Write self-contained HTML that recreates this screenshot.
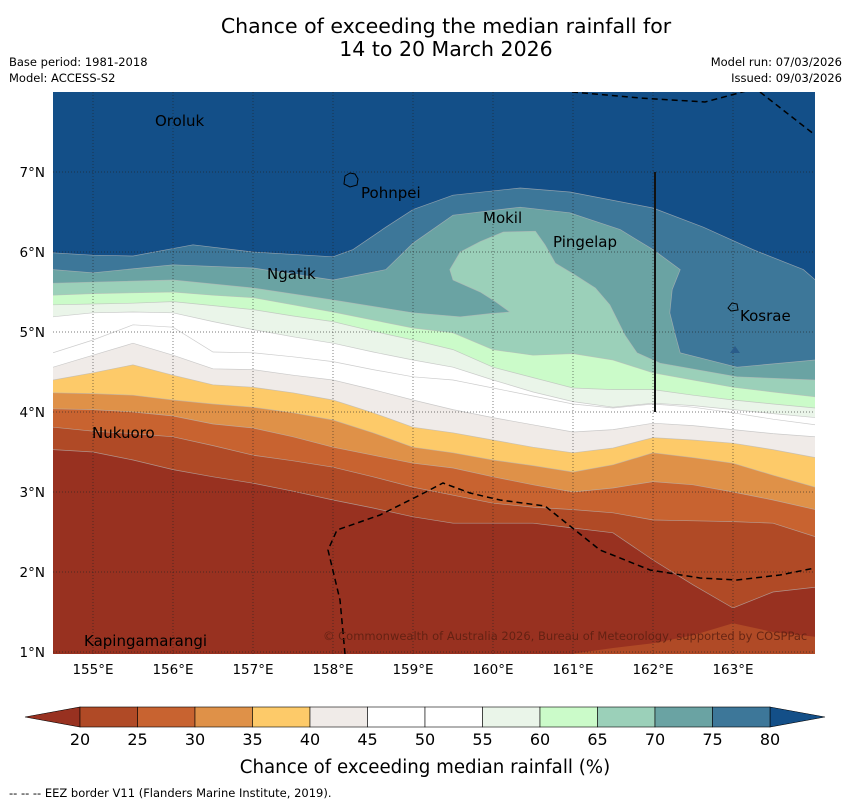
<!DOCTYPE html>
<html><head><meta charset="utf-8">
<style>
body{margin:0;background:#fff;}
svg{display:block;font-family:"DejaVu Sans","Liberation Sans",sans-serif;}
</style></head>
<body>
<svg id="chart" width="850" height="804" viewBox="0 0 850 804" xmlns="http://www.w3.org/2000/svg">
<text x="446" y="33" font-size="20.5" text-anchor="middle">Chance of exceeding the median rainfall for</text>
<text x="446" y="56" font-size="20.5" text-anchor="middle">14 to 20 March 2026</text>
<text x="9" y="66" font-size="11.5">Base period: 1981-2018</text>
<text x="9" y="82" font-size="11.5">Model: ACCESS-S2</text>
<text x="842" y="66" font-size="11.5" text-anchor="end">Model run: 07/03/2026</text>
<text x="842" y="82" font-size="11.5" text-anchor="end">Issued: 09/03/2026</text>
<defs><clipPath id="clip"><rect x="53" y="92" width="762" height="562"/></clipPath></defs>
<g id="map" clip-path="url(#clip)"></g>
<g id="overlay" clip-path="url(#clip)">
<path d="M572,92 L640,98 L705,102 L750,90" fill="none" stroke="#000" stroke-width="1.5" stroke-dasharray="6,4"/>
<path d="M760,92 L815,135" fill="none" stroke="#000" stroke-width="1.5" stroke-dasharray="6,4"/>
<path d="M345,654 L340,600 L328,550 L337,530 L380,515 L420,495 L443,483 L470,493 L500,500 L545,506 L575,530 L600,550 L650,570 L700,578 L737,580 L780,575 L815,568" fill="none" stroke="#000" stroke-width="1.5" stroke-dasharray="6,4"/>
<line x1="655" y1="172" x2="655" y2="412" stroke="#111" stroke-width="2"/>
<path d="M345,176 L350,173 L355,174 L358,179 L357,185 L350,187 L344,184 Z" fill="none" stroke="#000" stroke-width="1"/>
<path d="M728,308 L732,303 L737,304 L738,310 L731,311 Z" fill="none" stroke="#000" stroke-width="1"/>
<path d="M730,353 L735,346 L740,353 Z" fill="#2a5c8a"/>
<text x="155" y="126" font-size="15">Oroluk</text>
<text x="361" y="198" font-size="15">Pohnpei</text>
<text x="483" y="223" font-size="15">Mokil</text>
<text x="553" y="247" font-size="15">Pingelap</text>
<text x="267" y="279" font-size="15">Ngatik</text>
<text x="740" y="321" font-size="15">Kosrae</text>
<text x="92" y="438" font-size="15">Nukuoro</text>
<text x="84" y="646" font-size="15">Kapingamarangi</text>
<text x="323" y="640" font-size="11.5" fill="#5a1e10" fill-opacity="0.85">© Commonwealth of Australia 2026, Bureau of Meteorology, supported by COSPPac</text>
</g>
<g id="axes"></g>
<g id="cbar"></g>
<text x="425" y="773" font-size="18.2" text-anchor="middle">Chance of exceeding median rainfall (%)</text>
<text x="9" y="797" font-size="11.5">--  --  -- EEZ border V11 (Flanders Marine Institute, 2019).</text>
</svg>
<script>
const lons = [154.5,155,155.5,156,156.5,157,157.5,158,158.5,159,159.5,160,160.5,161,161.5,162,162.5,163,163.5,164.03];
const lat65 = [5.46,5.48,5.49,5.50,5.46,5.43,5.34,5.25,5.15,5.05,4.99,4.78,4.71,4.73,4.65,4.49,4.40,4.31,4.25,4.19];
const lat60 = [5.34,5.35,5.36,5.38,5.33,5.28,5.20,5.13,5.01,4.90,4.78,4.56,4.43,4.30,4.28,4.28,4.21,4.15,4.10,4.05];
const lat55 = [5.19,5.24,5.25,5.24,5.13,5.03,4.94,4.86,4.75,4.65,4.56,4.40,4.25,4.13,4.06,4.11,4.08,4.03,3.98,3.93];
const lat50 = [4.74,4.90,5.09,5.06,4.75,4.74,4.69,4.63,4.53,4.44,4.40,4.30,4.20,4.10,4.05,4.10,4.06,3.99,3.91,3.84];
const lat45 = [4.56,4.71,4.86,4.71,4.54,4.53,4.46,4.40,4.28,4.15,4.03,3.93,3.84,3.75,3.78,3.86,3.83,3.78,3.73,3.69];
const lat40 = [4.40,4.49,4.59,4.46,4.34,4.31,4.24,4.15,3.99,3.81,3.74,3.65,3.56,3.49,3.55,3.68,3.65,3.61,3.53,3.43];
const lat35 = [4.24,4.23,4.21,4.15,4.10,4.06,3.99,3.90,3.74,3.56,3.49,3.40,3.33,3.25,3.34,3.49,3.43,3.36,3.21,3.06];
const lat30 = [4.04,4.03,4.00,3.95,3.85,3.80,3.69,3.56,3.46,3.36,3.30,3.19,3.09,3.00,3.05,3.13,3.09,3.00,2.90,2.78];
const lat25 = [3.81,3.76,3.73,3.69,3.58,3.46,3.39,3.31,3.19,3.06,2.96,2.86,2.81,2.78,2.74,2.65,2.64,2.63,2.61,2.44];
const lat20 = [3.53,3.50,3.40,3.28,3.19,3.11,3.01,2.90,2.80,2.69,2.61,2.61,2.61,2.55,2.49,2.15,1.84,1.55,1.75,1.81];
const line80 = [[154.5,5.99],[155,5.96],[155.5,5.95],[156.25,6.09],[157,6.0],[158,5.94],[158.25,6.03],[158.66,6.31],[159,6.53],[159.5,6.71],[160.34,6.8],[160.96,6.75],[162,6.55],[162.63,6.31],[163.25,6.03],[163.88,5.78],[164.03,5.65]];
const line75 = [[154.5,5.78],[155,5.74],[156,5.84],[157,5.8],[158,5.65],[158.66,5.78],[159,6.11],[159.5,6.46],[160.34,6.56],[160.96,6.49],[161.59,6.28],[162,6.03],[162.34,5.78],[162.24,5.53],[162.21,5.24],[162.28,4.96],[162.34,4.74],[163.05,4.56],[164.03,4.65]];
const line70 = [[154.5,5.61],[156,5.65],[157,5.55],[158,5.4],[159,5.24],[159.59,5.19],[159.96,5.23],[160.21,5.25],[160.03,5.38],[159.84,5.5],[159.5,5.65],[159.46,5.78],[159.59,6.0],[159.84,6.13],[160.13,6.25],[160.53,6.26],[160.65,6.09],[160.78,5.86],[161.03,5.71],[161.28,5.55],[161.46,5.34],[161.65,4.96],[161.8,4.74],[162.09,4.61],[163.05,4.44],[164.03,4.4]];
const patchLons = [161.0,161.5,162.0,162.5,163.0,163.5,164.03];
const patchLats = [0.98,1.05,1.11,1.21,1.36,1.25,1.19];
const levels = [20,25,30,35,40,45,50,55,60,65,70,75,80];
const bandColors = ['#983120','#b04a26','#c86330','#df9148','#fdca69','#f0ebe8','#ffffff','#ffffff','#eaf5e9','#cbfbc9','#9bd0b9','#6aa3a3','#3d7799','#134f88'];
const lonTicks = [155,156,157,158,159,160,161,162,163];
const latTicks = [1,2,3,4,5,6,7];

const NS='http://www.w3.org/2000/svg';
const X = lon => 53 + (lon-154.5)*80;
const Y = lat => 92 + (8-lat)*80;
function mk(tag, attrs, parent){const e=document.createElementNS(NS,tag);for(const k in attrs)e.setAttribute(k,attrs[k]);parent.appendChild(e);return e;}
const map=document.getElementById('map');
const bg=mk('rect',{x:53,y:92,width:762,height:562,fill:bandColors[13]},map);


const gridLines = {20:lat20,25:lat25,30:lat30,35:lat35,40:lat40,45:lat45,50:lat50,55:lat55,60:lat60,65:lat65};
function linePts(level){
  if(level===80) return line80;
  if(level===75) return line75;
  if(level===70) return line70;
  return lons.map((ln,i)=>[ln,gridLines[level][i]]);
}
for(let li=levels.length-1; li>=0; li--){
  const lv=levels[li];
  const pts=linePts(lv);
  const s=pts.map(p=>X(p[0]).toFixed(1)+','+Y(p[1]).toFixed(1)).join(' L');
  const d='M'+s+' L'+(X(164.03)+5)+','+Y(pts[pts.length-1][1]).toFixed(1)+' L'+(X(164.03)+5)+',700 L40,700 L40,'+Y(pts[0][1]).toFixed(1)+' Z';
  const p=mk('path',{d:d,fill:bandColors[li]},map);
  
  
  const c=mk('path',{d:'M'+s,fill:'none',stroke:'#b8b8b8','stroke-width':0.7,'stroke-opacity':0.7},map);
  
  
}
{
  const s=patchLons.map((ln,i)=>X(ln).toFixed(1)+','+Y(patchLats[i]).toFixed(1)).join(' L');
  const p=mk('path',{d:'M'+s+' L820,700 L'+X(patchLons[0]).toFixed(1)+',700 Z',fill:bandColors[1]},map);
  
  
}
lonTicks.forEach(t=>{
  const l=mk('line',{x1:X(t),y1:92,x2:X(t),y2:654,stroke:'#222','stroke-width':0.7,'stroke-dasharray':'1,2','stroke-opacity':0.8},map);
  
  
});
latTicks.forEach(t=>{
  const l=mk('line',{x1:53,y1:Y(t),x2:815,y2:Y(t),stroke:'#222','stroke-width':0.7,'stroke-dasharray':'1,2','stroke-opacity':0.8},map);
  
  
});
const axes=document.getElementById('axes');
lonTicks.forEach(t=>{
  const e=mk('text',{x:X(t),y:674,'font-size':13.5,'text-anchor':'middle'},axes);
  e.textContent=t+'°E';
  
  
});
latTicks.forEach(t=>{
  const e=mk('text',{x:45,y:Y(t)+5,'font-size':13.5,'text-anchor':'end'},axes);
  e.textContent=t+'°N';
  
  
});
const cb=document.getElementById('cbar');
const cx = v => 80 + (v-20)*690/60;
const lo=mk('path',{d:'M25,717 L80,707 L80,727 Z',fill:bandColors[0],stroke:'#000','stroke-width':0.6},cb);


const hi=mk('path',{d:'M770,707 L825,717 L770,727 Z',fill:bandColors[13],stroke:'#000','stroke-width':0.6},cb);


for(let i=0;i<levels.length-1;i++){
  const r=mk('rect',{x:cx(levels[i]),y:707,width:cx(levels[i+1])-cx(levels[i]),height:20,fill:bandColors[i+1],stroke:'#000','stroke-width':0.6},cb);
  
  
}
levels.forEach(v=>{
  const e=mk('text',{x:cx(v),y:745,'font-size':16,'text-anchor':'middle'},cb);
  e.textContent=v;
  
  
});
</script>
</body></html>
